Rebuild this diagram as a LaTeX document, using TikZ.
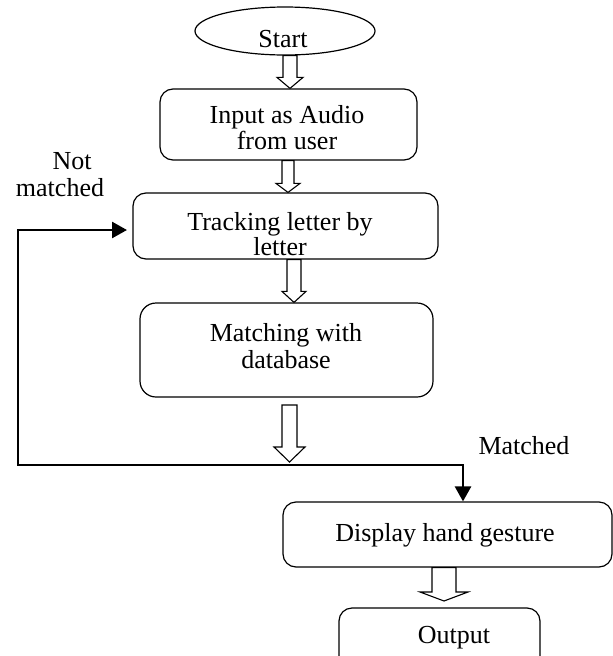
\documentclass[tikz,border=0pt]{standalone}
\usepackage{fontspec}
\setmainfont{Liberation Serif}
\usetikzlibrary{shapes.geometric, arrows.meta, calc}
\tikzset{mytip/.tip={Triangle[length=15pt,width=16pt]}}
\newcommand{\hollowarrow}[6]{%
  \path[ha] let \p1=(#2), \p2=(#3) in
  ({(#1-#4)*1pt},\y1) -- ({(#1-#4)*1pt},{\y2+#6pt}) -- ({(#1-#5)*1pt},{\y2+#6pt})
  -- ({#1*1pt},\y2) -- ({(#1+#5)*1pt},{\y2+#6pt}) -- ({(#1+#4)*1pt},{\y2+#6pt})
  -- ({(#1+#4)*1pt},\y1) -- cycle;}
\begin{document}
\begin{tikzpicture}[x=1pt,y=-1pt,
  box/.style={draw, line width=1.2pt, rounded corners=13pt, inner sep=0pt},
  txt/.style={font=\fontsize{26}{27}\selectfont, align=center, inner sep=0pt},
  loopline/.style={line width=2.6pt, line join=miter},
  ha/.style={draw, line width=1.1pt, fill=white, line join=miter}]
\useasboundingbox (0,0) rectangle (613,656);
\clip (0,0) rectangle (613,656);

% start
\node[draw, ellipse, line width=1.2pt, minimum width=180pt, minimum height=48pt, inner sep=0pt] (start) at (285,31) {};
\node[txt] (starttxt) at (283,39) {Start};

% boxes
\node[box, minimum width=257pt, minimum height=71pt] (b1) at (288.5,124.5) {};
\node[txt, font=\fontsize{26}{26}\selectfont] (t1) at (287,128) {Input as Audio\\from user};

\node[box, minimum width=305pt, minimum height=66pt] (b2) at (285.5,226) {};
\node[txt, font=\fontsize{26}{25}\selectfont] (t2) at (280,234) {Tracking letter by\\letter};

\node[box, minimum width=293pt, minimum height=94pt, rounded corners=16pt] (b3) at (286.5,350) {};
\node[txt] (t3) at (286,346) {Matching with\\database};

\node[box, minimum width=329pt, minimum height=65pt] (b4) at (447.5,534.5) {};
\node[txt] (t4) at (445,535) {Display hand gesture};

\node[box, minimum width=201pt, minimum height=80pt] (b5) at (439.5,648) {};
\node[txt] (t5) at (454,638) {Output};

% hollow arrows
\coordinate (a4top) at (289.5,405);
\coordinate (a4tip) at (289.5,462);
\coordinate (a5tip) at (444,601);
\hollowarrow{290}{start.south}{b1.north}{7}{13}{11}
\hollowarrow{288}{b1.south}{b2.north}{6}{12}{9}
\hollowarrow{294}{b2.south}{b3.north}{7}{12}{11}
\hollowarrow{289.5}{a4top}{a4tip}{7.5}{15.5}{15}
\hollowarrow{444}{b4.south}{a5tip}{12}{24}{9}

% loop
\coordinate (jr) at (463,465);
\coordinate (jl) at (18,465);
\coordinate (nmtip) at (127,230);
\draw[loopline, {mytip}-{mytip}] (nmtip) -- (jl |- nmtip) -- (jl) -- (jr) -- (jr |- b4.north);

% labels
\node[txt] (nm) at (60,175) {\hspace*{24pt}Not\\matched};
\node[txt] (mt) at (524,446) {Matched};
\end{tikzpicture}
\end{document}
